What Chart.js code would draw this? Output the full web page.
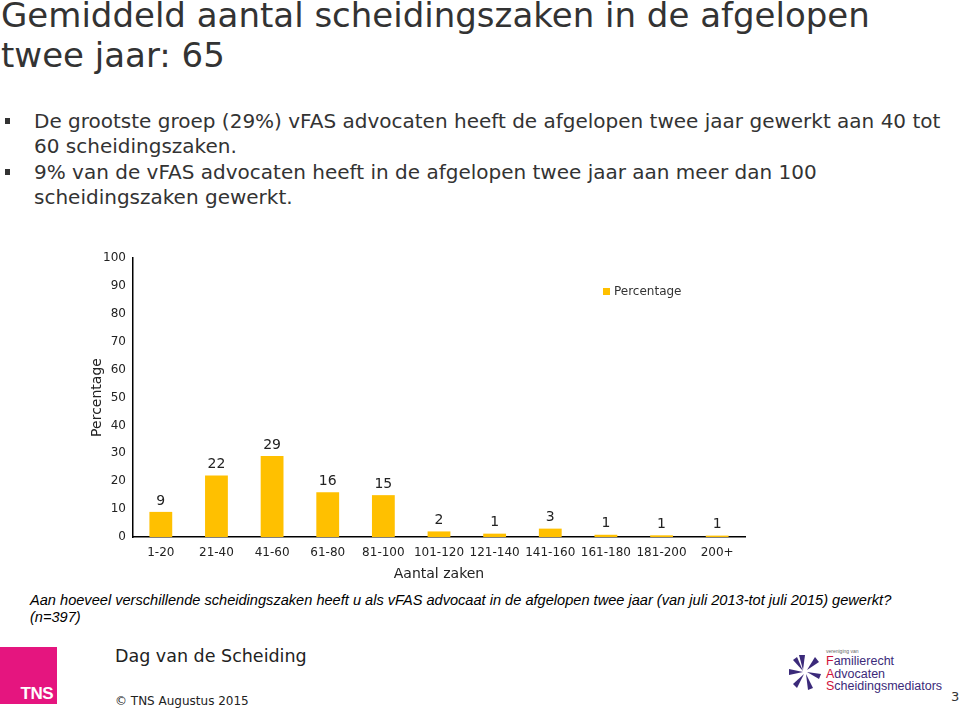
<!DOCTYPE html>
<html><head><meta charset="utf-8">
<script src="https://cdn.jsdelivr.net/npm/chart.js@4.4.0/dist/chart.umd.min.js"></script>
<style>
html,body{margin:0;padding:0;background:#fff;width:960px;height:709px;overflow:hidden;font-family:"DejaVu Sans",Verdana,sans-serif;color:#333;}
#title{position:absolute;left:1px;top:-5px;font-size:34px;line-height:40px;color:#333;}
.bul{position:absolute;left:34px;font-size:20px;line-height:25px;color:#333;width:925px;white-space:nowrap;}
.bsq{position:absolute;left:5px;width:5px;height:6px;background:#333;}
#wrap{position:absolute;left:84px;top:240px;width:700px;height:347px;}
#q{position:absolute;left:30px;top:592px;font-family:"Liberation Sans Narrow","Liberation Sans",sans-serif;font-style:italic;font-size:14.6px;line-height:17px;color:#000;white-space:nowrap;}
#tns{position:absolute;left:0;top:647px;width:57px;height:57px;background:#e5157f;}
#tns span{position:absolute;right:4px;bottom:0px;color:#fff;font-family:"Liberation Sans",Arial,sans-serif;font-weight:bold;font-size:17px;letter-spacing:-0.5px;}
#dag{position:absolute;left:115px;top:646px;font-size:17.5px;color:#222;}
#copy{position:absolute;left:115px;top:694px;font-size:12px;color:#222;}
#pg{position:absolute;left:951px;top:689px;font-size:13px;color:#333;}
#fas{position:absolute;left:788px;top:652px;}
#fastext{position:absolute;left:826px;top:648px;font-family:"Liberation Sans Narrow","Liberation Sans",Arial,sans-serif;color:#3b2a7a;}
#fastext .s{font-size:5px;color:#666;line-height:7px;}
#fastext .l{font-size:12.5px;line-height:12.5px;}
#fastext .l b{color:#d0103a;font-weight:normal;}
</style></head><body>
<div id="title">Gemiddeld aantal scheidingszaken in de afgelopen<br>twee jaar: 65</div>
<div class="bsq" style="top:118px"></div>
<div class="bul" style="top:109px">De grootste groep (29%) vFAS advocaten heeft de afgelopen twee jaar gewerkt aan 40 tot<br>60 scheidingszaken.</div>
<div class="bsq" style="top:169px"></div>
<div class="bul" style="top:160px">9% van de vFAS advocaten heeft in de afgelopen twee jaar aan meer dan 100<br>scheidingszaken gewerkt.</div>
<div id="wrap"><canvas id="c" width="700" height="347"></canvas></div>
<div id="q">Aan hoeveel verschillende scheidingszaken heeft u als vFAS advocaat in de afgelopen twee jaar (van juli 2013-tot juli 2015) gewerkt?<br>(n=397)</div>
<div id="tns"><span>TNS</span></div>
<div id="dag">Dag van de Scheiding</div>
<div id="copy">© TNS Augustus 2015</div>
<svg id="fas" width="34" height="40" viewBox="0 0 34 40">
<g fill="#3b2a7a" transform="translate(17,20)">
<path d="M-2,-2 L-6,-17 L0,-17 Z"/><path d="M2,-2 L10,-15 L14,-10 Z"/><path d="M2,0 L16,2 L14,7 Z"/>
<path d="M1,2 L8,16 L3,18 Z"/><path d="M-1,2 L-8,16 L-12,12 Z"/><path d="M-2,0 L-16,3 L-16,-3 Z"/><path d="M-2,-1 L-12,-12 L-8,-15 Z"/>
</g></svg>
<div id="fastext"><div class="s">vereniging van</div><div class="l"><b>F</b>amilierecht</div><div class="l"><b>A</b>dvocaten</div><div class="l"><b>S</b>cheidingsmediators</div></div>
<div id="pg">3</div>
<script>
const categories = ["1-20","21-40","41-60","61-80","81-100","101-120","121-140","141-160","161-180","181-200","200+"];
const percentage = [9,22,29,16,15,2,1.2,3,0.8,0.6,0.5];
const valueLabels = ["9","22","29","16","15","2","1","3","1","1","1"];
const yTicks = [0,10,20,30,40,50,60,70,80,90,100];
const FONT = '"DejaVu Sans", Verdana, sans-serif';

const valueLabelPlugin = {
  id:'valueLabels',
  afterDatasetsDraw(chart){
    const ctx = chart.ctx;
    const meta = chart.getDatasetMeta(0);
    ctx.save();
    ctx.font = '14px ' + FONT;
    ctx.fillStyle = '#222';
    ctx.textAlign = 'center';
    ctx.textBaseline = 'bottom';
    meta.data.forEach((bar,i)=>{
      ctx.fillText(valueLabels[i], bar.x, bar.y - 4);
    });
    // legend
    const ds = chart.data.datasets[0];
    const lx = chart.chartArea.right - 142, ly = chart.chartArea.top + 34;
    ctx.fillStyle = ds.backgroundColor;
    ctx.fillRect(lx, ly - 4, 7, 7);
    ctx.font = '12px ' + FONT;
    ctx.fillStyle = '#333';
    ctx.textAlign = 'left';
    ctx.textBaseline = 'middle';
    ctx.fillText(ds.label, lx + 11, ly);
    ctx.restore();
  }
};

new Chart(document.getElementById('c'), {
  type:'bar',
  data:{labels:categories, datasets:[{label:'Percentage', data:percentage, backgroundColor:'#ffc000', barPercentage:0.41, categoryPercentage:1}]},
  options:{
    responsive:false, animation:false,
    layout:{padding:{top:18,right:39,left:0,bottom:0}},
    plugins:{ legend:{display:false}, tooltip:{enabled:false} },
    scales:{
      x:{
        grid:{display:false, drawTicks:false},
        border:{display:true, color:'#000', width:1.5},
        ticks:{color:'#222', padding:9, maxRotation:0, autoSkip:false, font:{size:12, family:FONT}},
        title:{display:true, text:'Aantal zaken', color:'#222', padding:{top:2,bottom:4}, font:{size:14, family:FONT}},
        afterFit(s){ s.height = 50; }
      },
      y:{
        min:0, max:100,
        afterBuildTicks(s){ s.ticks = yTicks.map(v=>({value:v})); },
        grid:{display:false, drawTicks:false},
        border:{display:true, color:'#000', width:1.5},
        ticks:{color:'#222', padding:7, font:{size:12, family:FONT}},
        title:{display:true, text:'Percentage', color:'#222', padding:{top:5,bottom:4}, font:{size:14, family:FONT}},
        afterFit(s){ s.width = 49; }
      }
    }
  },
  plugins:[valueLabelPlugin]
});
</script>
</body></html>
